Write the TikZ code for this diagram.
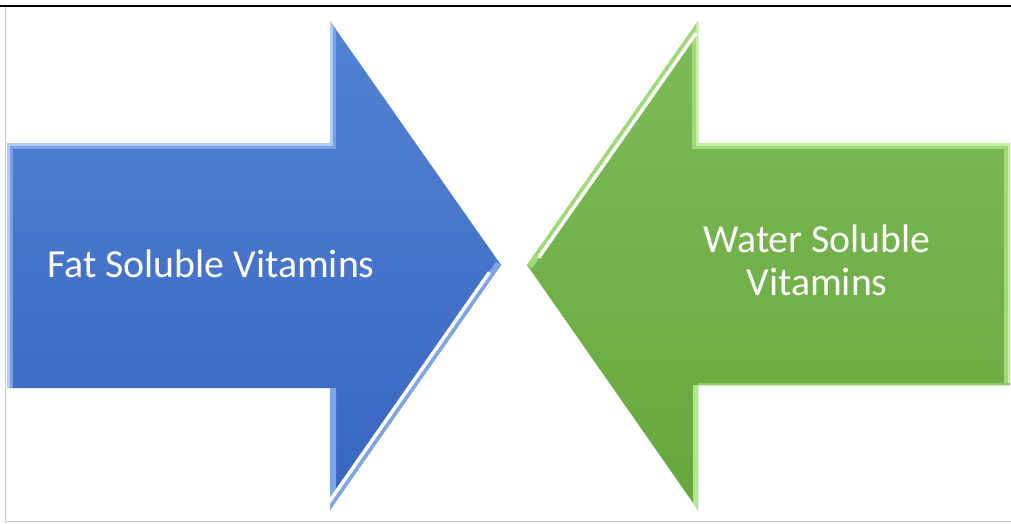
\documentclass[tikz,border=0pt]{standalone}
\usepackage{fontspec}
\setmainfont{Carlito}
\usetikzlibrary{calc}
\begin{document}
\begin{tikzpicture}[x=1pt,y=-1pt,
  label text/.style={text=white,inner sep=0pt,font=\fontsize{39.8}{43}\selectfont},
  frame line/.style={line width=0.8pt,draw=black!22}]
\useasboundingbox (0,0) rectangle (1011,523);
\fill[white] (0,0) rectangle (1011,523);
% frame
\draw[frame line] (5.5,7) -- (5.5,523);
\draw[frame line] (5,521.8) -- (1011,521.8);
\draw[line width=2.2pt,black] (0,6) -- (1011,6);

% ---- blue arrow
\coordinate (bL1) at (7,143);
\coordinate (bB1) at (330,143);
\coordinate (bT) at (330,21);
\coordinate (bTip) at (501,265);
\coordinate (bBot) at (330,510);
\coordinate (bB2) at (330,388);
\coordinate (bL2) at (7,388);
\shade[top color={rgb,255:red,82;green,130;blue,211},bottom color={rgb,255:red,56;green,101;blue,192}]
  (bL1) -- (bB1) -- (bT) -- (bTip) -- (bBot) -- (bB2) -- (bL2) -- cycle;
\begin{scope}
  \clip (bL1) -- (bB1) -- (bT) -- (bTip) -- (bBot) -- (bB2) -- (bL2) -- cycle;
  \draw[line width=11pt,color={rgb,255:red,120;green,160;blue,228}] (bL2) -- (bL1) -- (bB1) -- (bT);
  \draw[line width=5pt,color={rgb,255:red,175;green,205;blue,248}] (bL2) -- (bL1) -- (bB1) -- (bT);
  \draw[line width=12pt,color={rgb,255:red,125;green,165;blue,232}] (bTip) -- (bBot) -- (bB2);
  \draw[line width=3.5pt,white] ($(bTip)!0.03!(bBot)+(-6.5,0)$) -- ($(bTip)!0.97!(bBot)+(-6.5,0)$);
\end{scope}
\node[label text,anchor=base west] (fat) at (47,277) {Fat Soluble Vitamins};

% ---- green arrow
\coordinate (gR1) at (1010,143);
\coordinate (gB1) at (698,143);
\coordinate (gT) at (698,21);
\coordinate (gTip) at (527,265);
\coordinate (gBot) at (698,510);
\coordinate (gB2) at (698,385);
\coordinate (gR2) at (1010,385);
\shade[top color={rgb,255:red,126;green,188;blue,88},bottom color={rgb,255:red,103;green,167;blue,60}]
  (gR1) -- (gB1) -- (gT) -- (gTip) -- (gBot) -- (gB2) -- (gR2) -- cycle;
\begin{scope}
  \clip (gR1) -- (gB1) -- (gT) -- (gTip) -- (gBot) -- (gB2) -- (gR2) -- cycle;
  \draw[line width=12pt,color={rgb,255:red,160;green,218;blue,118}] (gTip) -- (gT) -- (gB1) -- (gR1) -- (gR2);
  \draw[line width=5pt,color={rgb,255:red,195;green,240;blue,160}] (gT) -- (gB1) -- (gR1) -- (gR2);
  \draw[line width=3.5pt,white] ($(gTip)!0.03!(gT)+(6.5,0)$) -- ($(gT)!0.05!(gTip)+(6.5,0)$);
  \draw[line width=10pt,color={rgb,255:red,175;green,232;blue,135}] (gBot) -- (gB2);
  \draw[line width=4pt,color={rgb,255:red,140;green,200;blue,100}] (gB2) -- (gR2);
\end{scope}
\node[label text,align=center] (water) at (817,260.5) {Water Soluble\\Vitamins};
\end{tikzpicture}
\end{document}
